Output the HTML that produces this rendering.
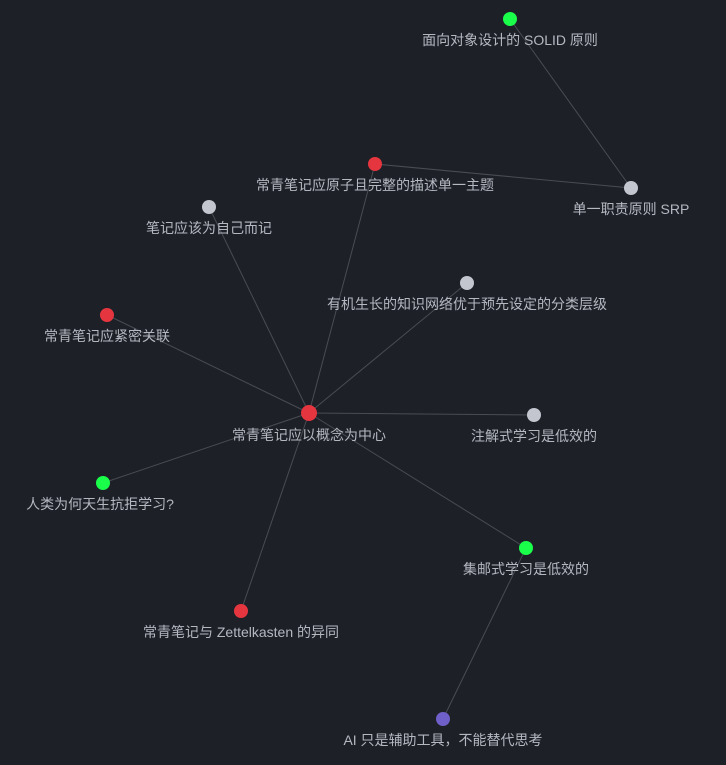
<!DOCTYPE html>
<html><head><meta charset="utf-8"><style>
html,body{margin:0;padding:0;background:#1e2028;}
svg{display:block}
text{font-family:"Liberation Sans","Noto Sans CJK SC",sans-serif;font-size:14px;fill:#b4b8c0;text-anchor:middle}
line{stroke:#4a4c54;stroke-width:1}
</style></head><body>
<svg width="726" height="765" viewBox="0 0 726 765">
<rect width="726" height="765" fill="#1e2028"/>
<line x1="510" y1="19" x2="631" y2="188"/>
<line x1="375" y1="164" x2="631" y2="188"/>
<line x1="309" y1="413" x2="375" y2="164"/>
<line x1="309" y1="413" x2="209" y2="207"/>
<line x1="309" y1="413" x2="467" y2="283"/>
<line x1="309" y1="413" x2="107" y2="315"/>
<line x1="309" y1="413" x2="534" y2="415"/>
<line x1="309" y1="413" x2="103" y2="483"/>
<line x1="309" y1="413" x2="526" y2="548"/>
<line x1="309" y1="413" x2="241" y2="611"/>
<line x1="526" y1="548" x2="443" y2="719"/>
<circle cx="510" cy="19" r="7" fill="#1aff4a"/>
<circle cx="631" cy="188" r="7" fill="#c4c6cf"/>
<circle cx="375" cy="164" r="7" fill="#e5363f"/>
<circle cx="209" cy="207" r="7" fill="#c4c6cf"/>
<circle cx="467" cy="283" r="7" fill="#c4c6cf"/>
<circle cx="107" cy="315" r="7" fill="#e5363f"/>
<circle cx="309" cy="413" r="8" fill="#e5363f"/>
<circle cx="534" cy="415" r="7" fill="#c4c6cf"/>
<circle cx="103" cy="483" r="7" fill="#1aff4a"/>
<circle cx="526" cy="548" r="7" fill="#1aff4a"/>
<circle cx="241" cy="611" r="7" fill="#e5363f"/>
<circle cx="443" cy="719" r="7" fill="#6f5fc8"/>
<text x="510" y="45">面向对象设计的 SOLID 原则</text>
<text x="631" y="214">单一职责原则 SRP</text>
<text x="375" y="190">常青笔记应原子且完整的描述单一主题</text>
<text x="209" y="233">笔记应该为自己而记</text>
<text x="467" y="309">有机生长的知识网络优于预先设定的分类层级</text>
<text x="107" y="341">常青笔记应紧密关联</text>
<text x="309" y="440">常青笔记应以概念为中心</text>
<text x="534" y="441">注解式学习是低效的</text>
<text x="100" y="509">人类为何天生抗拒学习?</text>
<text x="526" y="574">集邮式学习是低效的</text>
<text x="241" y="637">常青笔记与 Zettelkasten 的异同</text>
<text x="443" y="745">AI 只是辅助工具，不能替代思考</text>
</svg>
</body></html>
